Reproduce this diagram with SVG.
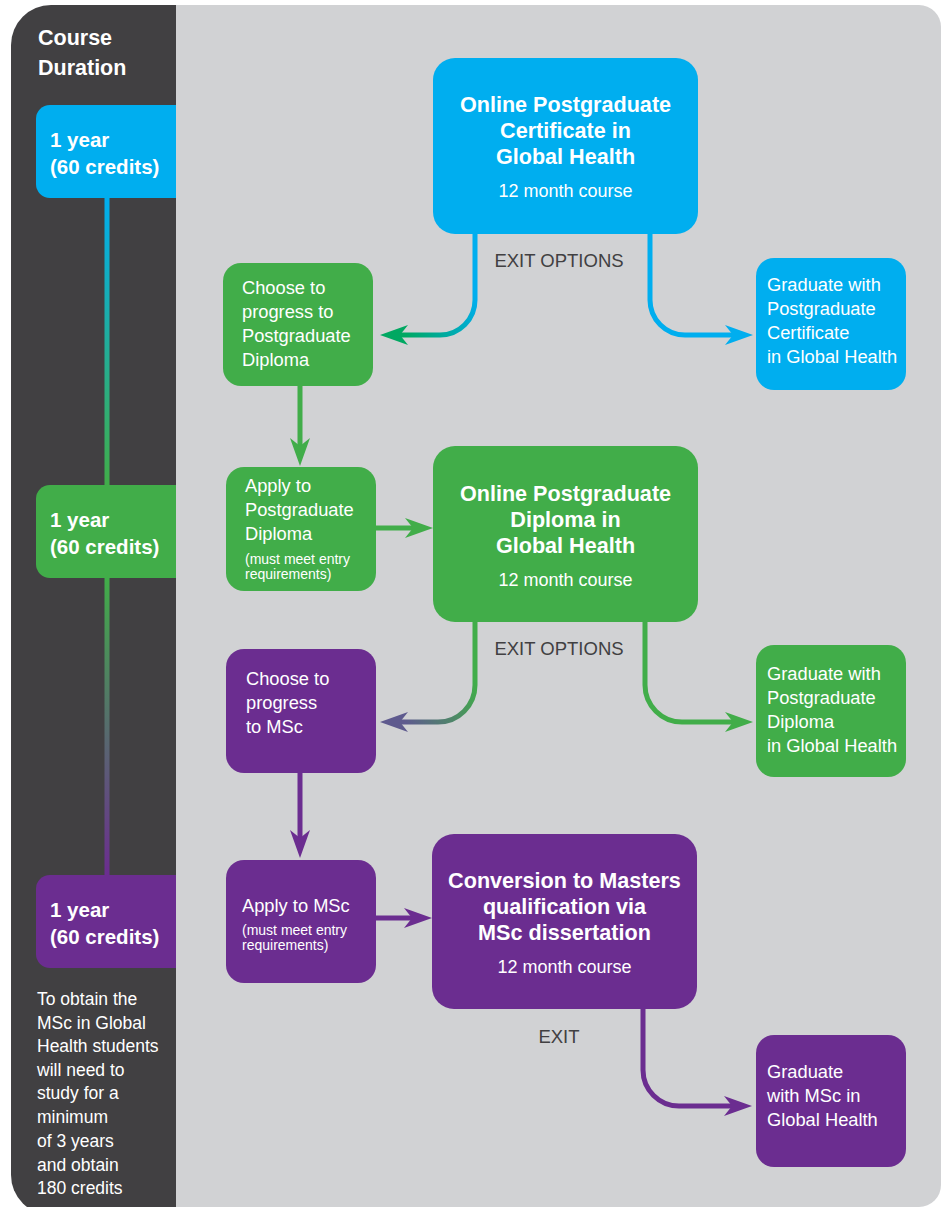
<svg xmlns="http://www.w3.org/2000/svg" width="942" height="1207" viewBox="0 0 942 1207">
<style>
text{font-family:"Liberation Sans",Arial,sans-serif;fill:#fff}
.b{font-weight:bold}
.yr{font-weight:bold;font-size:20.5px}
.tt{font-weight:bold;font-size:21.6px;text-anchor:middle}
.sub{font-size:18px;text-anchor:middle}
.nt{font-size:18.3px}
.sm{font-size:14px}
.lt{font-size:17.5px}
.ex{font-size:18.5px;fill:#414042;text-anchor:middle}
.c{fill:none;stroke-width:5}
</style>
<defs>
<linearGradient id="gBG" x1="0" y1="198" x2="0" y2="485" gradientUnits="userSpaceOnUse"><stop offset="0" stop-color="#00aeef"/><stop offset="1" stop-color="#41ad49"/></linearGradient>
<linearGradient id="gGP" x1="0" y1="578" x2="0" y2="875" gradientUnits="userSpaceOnUse"><stop offset="0" stop-color="#41ad49"/><stop offset="1" stop-color="#6b2d90"/></linearGradient>
<linearGradient id="cBG" x1="475" y1="295" x2="405" y2="335" gradientUnits="userSpaceOnUse"><stop offset="0" stop-color="#00aeef"/><stop offset="1" stop-color="#00a862"/></linearGradient>
<linearGradient id="cGP" x1="475" y1="683" x2="405" y2="722" gradientUnits="userSpaceOnUse"><stop offset="0" stop-color="#41ad49"/><stop offset="1" stop-color="#5e5a8e"/></linearGradient>
<marker id="aB" viewBox="0 0 28 20" refX="8" refY="10" markerWidth="28" markerHeight="20" markerUnits="userSpaceOnUse" orient="auto"><path d="M0,0 L28,10 L0,20 L8,10 Z" fill="#00aeef"/></marker>
<marker id="aG" viewBox="0 0 28 20" refX="8" refY="10" markerWidth="28" markerHeight="20" markerUnits="userSpaceOnUse" orient="auto"><path d="M0,0 L28,10 L0,20 L8,10 Z" fill="#41ad49"/></marker>
<marker id="aP" viewBox="0 0 28 20" refX="8" refY="10" markerWidth="28" markerHeight="20" markerUnits="userSpaceOnUse" orient="auto"><path d="M0,0 L28,10 L0,20 L8,10 Z" fill="#6b2d90"/></marker>
<marker id="aT" viewBox="0 0 28 20" refX="8" refY="10" markerWidth="28" markerHeight="20" markerUnits="userSpaceOnUse" orient="auto"><path d="M0,0 L28,10 L0,20 L8,10 Z" fill="#00a862"/></marker>
<marker id="aS" viewBox="0 0 28 20" refX="8" refY="10" markerWidth="28" markerHeight="20" markerUnits="userSpaceOnUse" orient="auto"><path d="M0,0 L28,10 L0,20 L8,10 Z" fill="#5e5a8e"/></marker>
</defs>
<rect width="942" height="1207" fill="#fff"/>
<rect x="150" y="5" width="791" height="1202" rx="22" fill="#d1d2d4"/>
<path d="M11,45 A40,40 0 0 1 51,5 H176 V1215 H51 A40,40 0 0 1 11,1175 Z" fill="#414042"/>

<g id="timeline">
<rect x="104.5" y="196" width="5" height="291" fill="url(#gBG)"/>
<rect x="104.5" y="576" width="5" height="301" fill="url(#gGP)"/>
</g>

<g id="duration-title">
<text class="b" x="38" y="45" font-size="21.5">Course</text>
<text class="b" x="38" y="75" font-size="21.5">Duration</text>
</g>
<g id="year1">
<path d="M176,105 V198 H50 A14,14 0 0 1 36,184 V119 A14,14 0 0 1 50,105 Z" fill="#00aeef"/>
<text class="yr" x="50" y="147">1 year</text>
<text class="yr" x="50" y="174">(60 credits)</text>
</g>
<g id="year2">
<path d="M176,485 V578 H50 A14,14 0 0 1 36,564 V499 A14,14 0 0 1 50,485 Z" fill="#41ad49"/>
<text class="yr" x="50" y="527">1 year</text>
<text class="yr" x="50" y="554">(60 credits)</text>
</g>
<g id="year3">
<path d="M176,875 V968 H50 A14,14 0 0 1 36,954 V889 A14,14 0 0 1 50,875 Z" fill="#6b2d90"/>
<text class="yr" x="50" y="917">1 year</text>
<text class="yr" x="50" y="944">(60 credits)</text>
</g>
<g id="note">
<text class="lt" x="37" y="1005">To obtain the</text>
<text class="lt" x="37" y="1029">MSc in Global</text>
<text class="lt" x="37" y="1052">Health students</text>
<text class="lt" x="37" y="1076">will need to</text>
<text class="lt" x="37" y="1099">study for a</text>
<text class="lt" x="37" y="1123">minimum</text>
<text class="lt" x="37" y="1147">of 3 years</text>
<text class="lt" x="37" y="1171">and obtain</text>
<text class="lt" x="37" y="1194">180 credits</text>
</g>

<g id="connectors">
<path class="c" d="M475,234 V300 A35,35 0 0 1 440,335 H400" stroke="url(#cBG)" marker-end="url(#aT)"/>
<path class="c" d="M650,234 V300 A35,35 0 0 0 685,335 H733" stroke="#00aeef" marker-end="url(#aB)"/>
<path class="c" d="M300,386 V446" stroke="#41ad49" marker-end="url(#aG)"/>
<path class="c" d="M376,528 H413" stroke="#41ad49" marker-end="url(#aG)"/>
<path class="c" d="M475,622 V685 A37,37 0 0 1 438,722 H400" stroke="url(#cGP)" marker-end="url(#aS)"/>
<path class="c" d="M645,622 V685 A37,37 0 0 0 682,722 H733" stroke="#41ad49" marker-end="url(#aG)"/>
<path class="c" d="M300,773 V838" stroke="#6b2d90" marker-end="url(#aP)"/>
<path class="c" d="M376,918 H412" stroke="#6b2d90" marker-end="url(#aP)"/>
<path class="c" d="M643,1009 V1070 A36,36 0 0 0 679,1106 H732" stroke="#6b2d90" marker-end="url(#aP)"/>
</g>
<g id="exit-labels">
<text class="ex" x="559" y="267">EXIT OPTIONS</text>
<text class="ex" x="559" y="655">EXIT OPTIONS</text>
<text class="ex" x="559" y="1043">EXIT</text>
</g>

<g id="cert">
<rect x="433" y="58" width="265" height="176" rx="22" fill="#00aeef"/>
<text class="tt" x="565.5" y="112">Online Postgraduate</text>
<text class="tt" x="565.5" y="138">Certificate in</text>
<text class="tt" x="565.5" y="164">Global Health</text>
<text class="sub" x="565.5" y="197">12 month course</text>
</g>
<g id="choose-diploma">
<rect x="223" y="263" width="150" height="123" rx="18" fill="#41ad49"/>
<text class="nt" x="242" y="294">Choose to</text>
<text class="nt" x="242" y="318">progress to</text>
<text class="nt" x="242" y="342">Postgraduate</text>
<text class="nt" x="242" y="366">Diploma</text>
</g>
<g id="grad-cert">
<rect x="756" y="258" width="150" height="132" rx="18" fill="#00aeef"/>
<text class="nt" x="767" y="291">Graduate with</text>
<text class="nt" x="767" y="315">Postgraduate</text>
<text class="nt" x="767" y="339">Certificate</text>
<text class="nt" x="767" y="363">in Global Health</text>
</g>
<g id="apply-diploma">
<rect x="226" y="467" width="150" height="124" rx="18" fill="#41ad49"/>
<text class="nt" x="245" y="492">Apply to</text>
<text class="nt" x="245" y="516">Postgraduate</text>
<text class="nt" x="245" y="540">Diploma</text>
<text class="sm" x="245" y="564">(must meet entry</text>
<text class="sm" x="245" y="579">requirements)</text>
</g>
<g id="diploma">
<rect x="433" y="446" width="265" height="176" rx="22" fill="#41ad49"/>
<text class="tt" x="565.5" y="501">Online Postgraduate</text>
<text class="tt" x="565.5" y="527">Diploma in</text>
<text class="tt" x="565.5" y="553">Global Health</text>
<text class="sub" x="565.5" y="586">12 month course</text>
</g>
<g id="choose-msc">
<rect x="226" y="649" width="150" height="124" rx="18" fill="#6b2d90"/>
<text class="nt" x="246" y="685">Choose to</text>
<text class="nt" x="246" y="709">progress</text>
<text class="nt" x="246" y="733">to MSc</text>
</g>
<g id="grad-diploma">
<rect x="756" y="645" width="150" height="132" rx="18" fill="#41ad49"/>
<text class="nt" x="767" y="680">Graduate with</text>
<text class="nt" x="767" y="704">Postgraduate</text>
<text class="nt" x="767" y="728">Diploma</text>
<text class="nt" x="767" y="752">in Global Health</text>
</g>
<g id="apply-msc">
<rect x="226" y="860" width="150" height="123" rx="18" fill="#6b2d90"/>
<text class="nt" x="242" y="912">Apply to MSc</text>
<text class="sm" x="242" y="935">(must meet entry</text>
<text class="sm" x="242" y="950">requirements)</text>
</g>
<g id="masters">
<rect x="432" y="834" width="265" height="175" rx="22" fill="#6b2d90"/>
<text class="tt" x="564.5" y="888">Conversion to Masters</text>
<text class="tt" x="564.5" y="914">qualification via</text>
<text class="tt" x="564.5" y="940">MSc dissertation</text>
<text class="sub" x="564.5" y="973">12 month course</text>
</g>
<g id="grad-msc">
<rect x="756" y="1035" width="150" height="132" rx="18" fill="#6b2d90"/>
<text class="nt" x="767" y="1078">Graduate</text>
<text class="nt" x="767" y="1102">with MSc in</text>
<text class="nt" x="767" y="1126">Global Health</text>
</g>
</svg>
